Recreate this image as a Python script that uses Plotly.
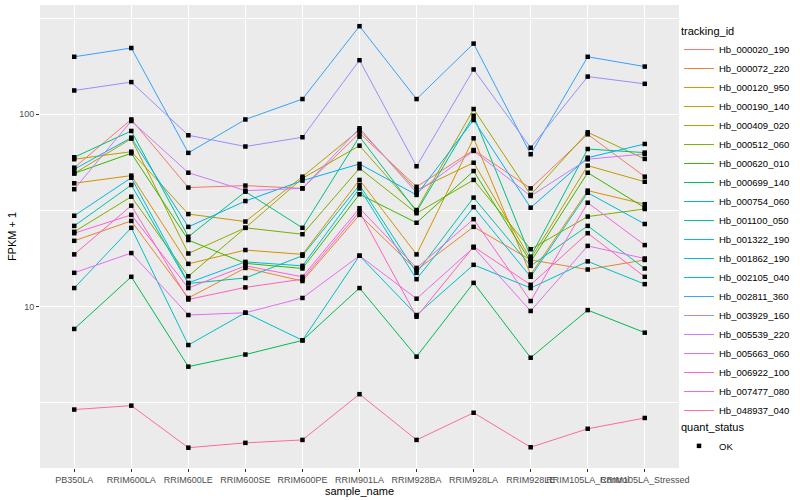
import plotly.graph_objects as go

samples = ["PB350LA", "RRIM600LA", "RRIM600LE", "RRIM600SE", "RRIM600PE", "RRIM901LA",
           "RRIM928BA", "RRIM928LA", "RRIM928LE", "RRIM105LA_Control", "RRIM105LA_Stressed"]

tracking_ids = ["Hb_000020_190", "Hb_000072_220", "Hb_000120_950", "Hb_000190_140", "Hb_000409_020",
                "Hb_000512_060", "Hb_000620_010", "Hb_000699_140", "Hb_000754_060", "Hb_001100_050",
                "Hb_001322_190", "Hb_001862_190", "Hb_002105_040", "Hb_002811_360", "Hb_003929_160",
                "Hb_005539_220", "Hb_005663_060", "Hb_006922_100", "Hb_007477_080", "Hb_048937_040"]

colors = ["#F8766D", "#EA8331", "#D89000", "#C09B00", "#A3A500", "#7CAE00", "#39B600", "#00BB4E",
          "#00BF7D", "#00C1A3", "#00BFC4", "#00BAE0", "#00B0F6", "#35A2FF", "#9590FF", "#C77CFF",
          "#E76BF3", "#FA62DB", "#FF62BC", "#FF6C91"]

# FPKM + 1 per sample, one list per tracking_id
Hb_000020_190 = [52.8, 94.0, 41.6, 42.6, 41.2, 79.9, 42.0, 65.2, 41.2, 78.7, 47.4]
Hb_000072_220 = [22.0, 27.9, 11.1, 15.9, 13.6, 30.0, 15.5, 26.0, 17.5, 15.6, 17.5]
Hb_000120_950 = [43.8, 48.0, 16.7, 19.7, 18.7, 45.6, 18.7, 75.0, 14.7, 40.1, 34.1]
Hb_000190_140 = [58.4, 63.9, 30.3, 27.7, 47.4, 82.9, 40.4, 56.0, 17.7, 54.1, 44.6]
Hb_000409_020 = [49.3, 74.7, 18.9, 25.7, 46.5, 68.7, 31.8, 106.5, 38.1, 80.6, 58.6]
Hb_000512_060 = [24.5, 37.3, 14.4, 25.7, 23.8, 52.4, 30.6, 45.6, 19.9, 29.4, 32.2]
Hb_000620_010 = [49.3, 62.7, 22.2, 16.8, 15.8, 38.4, 27.3, 50.7, 17.1, 49.7, 32.7]
Hb_000699_140 = [7.66, 14.3, 4.88, 5.64, 6.68, 12.5, 5.5, 13.3, 5.43, 9.6, 7.33]
Hb_000754_060 = [59.8, 81.9, 23.1, 39.6, 25.7, 76.5, 31.2, 98.3, 18.2, 66.0, 63.2]
Hb_001100_050 = [26.3, 42.9, 13.2, 14.1, 18.4, 42.9, 15.0, 36.9, 16.3, 26.3, 15.8]
Hb_001322_190 = [12.5, 25.7, 6.32, 9.3, 6.69, 18.4, 9.05, 16.5, 12.5, 17.2, 13.1]
Hb_001862_190 = [29.7, 46.8, 13.3, 17.1, 16.3, 41.2, 13.9, 32.9, 14.3, 39.1, 26.9]
Hb_002105_040 = [51.8, 75.6, 26.0, 35.4, 45.2, 55.2, 38.1, 93.4, 32.7, 59.5, 70.1]
Hb_002811_360 = [199, 221, 63, 94, 120, 287, 120, 233, 62, 199, 177]
Hb_003929_160 = [133, 147, 77.8, 68, 76, 191, 53.7, 171, 67, 157, 144]
Hb_005539_220 = [40.8, 92.3, 49.7, 40.1, 41.2, 84.6, 39.1, 64.5, 37.6, 58.4, 62.2]
Hb_005663_060 = [15.0, 19.0, 9.05, 9.3, 11.1, 18.4, 11.0, 20.3, 9.5, 20.7, 17.8]
Hb_006922_100 = [24.1, 30.0, 12.5, 16.3, 14.3, 32.5, 15.9, 28.5, 10.7, 34.7, 20.9]
Hb_007477_080 = [18.7, 33.5, 10.9, 12.6, 13.9, 31.2, 8.87, 20.5, 13.0, 24.1, 14.3]
Hb_048937_040 = [2.92, 3.06, 1.85, 1.96, 2.03, 3.51, 2.03, 2.81, 1.86, 2.32, 2.64]

series = [Hb_000020_190, Hb_000072_220, Hb_000120_950, Hb_000190_140, Hb_000409_020,
          Hb_000512_060, Hb_000620_010, Hb_000699_140, Hb_000754_060, Hb_001100_050,
          Hb_001322_190, Hb_001862_190, Hb_002105_040, Hb_002811_360, Hb_003929_160,
          Hb_005539_220, Hb_005663_060, Hb_006922_100, Hb_007477_080, Hb_048937_040]

y_ticks = [10, 100]
y_tick_labels = ["10", "100"]

FONT = "Liberation Sans, Arial, sans-serif"

fig = go.Figure()
for name, vals, col in zip(tracking_ids, series, colors):
    fig.add_trace(go.Scatter(x=samples, y=vals, mode="lines", name=name,
                             line=dict(color=col, width=1), legend="legend"))

all_x = [s for vals in series for s in samples]
all_y = [v for vals in series for v in vals]
fig.add_trace(go.Scatter(x=all_x, y=all_y, mode="markers", name="OK",
                         marker=dict(color="black", symbol="square", size=4.5),
                         legend="legend2"))

fig.update_layout(
    width=800, height=500,
    margin=dict(l=40, r=116, t=5, b=32),
    paper_bgcolor="white", plot_bgcolor="#EBEBEB",
    font=dict(family=FONT, color="black"),
    legend=dict(title=dict(text="tracking_id", font=dict(size=11, color="black")),
                font=dict(size=9.5, color="black"), x=1.0, xanchor="left",
                y=0.966, yanchor="top", itemwidth=30, tracegroupgap=0,
                bgcolor="rgba(0,0,0,0)"),
    legend2=dict(title=dict(text="quant_status", font=dict(size=11, color="black")),
                 font=dict(size=9.5, color="black"), x=1.0, xanchor="left",
                 y=0.110, yanchor="top", itemwidth=30, bgcolor="rgba(0,0,0,0)"),
    xaxis=dict(type="category", categoryorder="array", categoryarray=samples,
               range=[-0.6, len(samples) - 0.4], showgrid=True, gridcolor="white",
               gridwidth=1.1, ticks="outside", ticklen=3, tickcolor="#333333",
               tickangle=0, tickfont=dict(size=9, color="#4D4D4D", family=FONT),
               title=dict(text="sample_name", font=dict(size=11), standoff=0),
               zeroline=False, showline=False),
    yaxis=dict(type="log", range=[0.1616, 2.568], tickvals=y_ticks, ticktext=y_tick_labels,
               showgrid=True, gridcolor="white", gridwidth=1.1, ticks="outside",
               ticklen=3, tickcolor="#333333", tickfont=dict(size=9, color="#4D4D4D", family=FONT),
               title=dict(text="FPKM + 1", font=dict(size=11), standoff=0),
               minor=dict(tickvals=[10 ** 0.5, 10 ** 1.5, 10 ** 2.5], showgrid=True,
                          gridcolor="white", gridwidth=0.5, ticklen=0),
               zeroline=False, showline=False),
)

fig.write_html("out.html", config={"displayModeBar": False},
               post_script="document.body.style.margin='0px';")
